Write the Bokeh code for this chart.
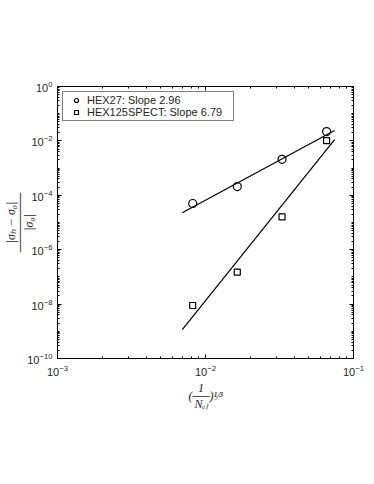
from bokeh.plotting import figure
from bokeh.models import (Range1d, LogAxis, FixedTicker, Legend)
from bokeh.embed import file_html
from bokeh.resources import INLINE

# ---- data ----
h_x = [0.0082, 0.0164, 0.0329, 0.0658]
hex27_err = [5.0e-5, 2.1e-4, 2.1e-3, 2.2e-2]
hex125_err = [8.9e-9, 1.5e-7, 1.6e-5, 1.03e-2]
fit_x = [0.00697, 0.0745]
fit27_y = [2.3e-5, 2.4e-2]
fit125_y = [1.15e-9, 1.12e-2]
legend_27 = "HEX27: Slope 2.96"
legend_125 = "HEX125SPECT: Slope 6.79"

x_major = [1e-3, 1e-2, 1e-1]
y_major = [1e-10, 1e-8, 1e-6, 1e-4, 1e-2, 1e0]
x_minor = [m * 10.0 ** k for k in (-3, -2) for m in range(2, 10)]
y_minor = [m * 10.0 ** k for k in range(-10, 0) for m in range(1, 10)]
y_minor = [v for v in y_minor if v not in y_major]

x_label = "1\u2007\u00a0\n(\u2500\u2500)\u00b9\u2044\u00b3\nN\u2091\u2097\u2007\u00a0"
y_label = "|\u03c3\u2095 \u2212 \u03c3\u2080|\n\u2500\u2500\u2500\u2500\u2500\u2500\u2500\n|\u03c3\u2080|"

SANS = "Liberation Sans"
SERIF = "Liberation Serif"
INK = "#262626"

p = figure(width=366, height=468, x_axis_type="log", y_axis_type="log",
           x_range=Range1d(1e-3, 1e-1), y_range=Range1d(1e-10, 1.0),
           output_backend="svg", toolbar_location=None,
           min_border_left=55, min_border_right=13, min_border_top=86,
           min_border_bottom=110)
p.background_fill_color = "white"
p.border_fill_color = "white"
p.outline_line_color = "black"
p.outline_line_width = 1
p.grid.visible = False


def style_axis(ax):
    ax.axis_line_color = "black"
    ax.major_tick_line_color = "black"
    ax.minor_tick_line_color = "black"
    ax.major_tick_in = 4
    ax.major_tick_out = 0
    ax.minor_tick_in = 2
    ax.minor_tick_out = 0
    ax.major_label_text_font = SANS
    ax.major_label_text_font_size = "11px"
    ax.major_label_text_color = INK


p.xaxis.ticker = FixedTicker(ticks=x_major, minor_ticks=x_minor)
p.yaxis.ticker = FixedTicker(ticks=y_major, minor_ticks=y_minor)
for ax in p.xaxis:
    style_axis(ax)
    ax.major_label_standoff = 6
    ax.axis_label = x_label
    ax.axis_label_text_font = SERIF
    ax.axis_label_text_font_size = "12px"
    ax.axis_label_text_font_style = "italic"
    ax.axis_label_text_color = INK
    ax.axis_label_text_line_height = 0.6
    ax.axis_label_standoff = 2
for ax in p.yaxis:
    style_axis(ax)
    ax.major_label_standoff = 5
    ax.axis_label = y_label
    ax.axis_label_text_font = SERIF
    ax.axis_label_text_font_size = "12px"
    ax.axis_label_text_font_style = "italic"
    ax.axis_label_text_color = INK
    ax.axis_label_text_line_height = 0.66
    ax.axis_label_standoff = -12

top = LogAxis(ticker=FixedTicker(ticks=x_major, minor_ticks=x_minor))
right = LogAxis(ticker=FixedTicker(ticks=y_major, minor_ticks=y_minor))
for ax, ticks in ((top, x_major), (right, y_major)):
    style_axis(ax)
    ax.major_label_overrides = {t: " " for t in ticks}
    ax.major_label_text_font_size = "1px"
    ax.major_label_standoff = 0
p.add_layout(top, "above")
p.add_layout(right, "right")

# fit lines
p.line(fit_x, fit27_y, line_color="black", line_width=1.2)
p.line(fit_x, fit125_y, line_color="black", line_width=1.2)

# data markers
r27 = p.scatter(h_x, hex27_err, marker="circle", size=8, fill_color=None,
                line_color="black", line_width=1.2)
r125 = p.scatter(h_x, hex125_err, marker="square", size=6, fill_color=None,
                 line_color="black", line_width=1.2)

legend = Legend(items=[(legend_27, [r27]), (legend_125, [r125])],
                location="top_left")
legend.margin = 5
legend.padding = 2
legend.spacing = 0
legend.glyph_width = 22
legend.glyph_height = 10
legend.label_height = 10
legend.label_width = 144
legend.label_standoff = -2
legend.label_text_font = SANS
legend.label_text_font_size = "11px"
legend.label_text_color = INK
legend.border_line_color = "black"
legend.border_line_width = 1
legend.background_fill_color = "white"
legend.background_fill_alpha = 1
p.add_layout(legend)

open("out.html", "w").write(file_html(p, INLINE))
